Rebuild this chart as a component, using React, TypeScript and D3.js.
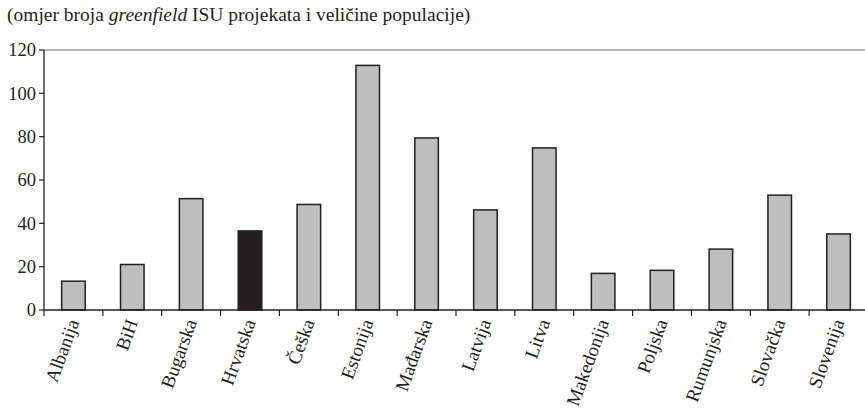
import React from "react";
import * as d3 from "d3";

const categories = ["Albanija", "BiH", "Bugarska", "Hrvatska", "Češka", "Estonija", "Mađarska", "Latvija", "Litva", "Makedonija", "Poljska", "Rumunjska", "Slovačka", "Slovenija"];
const values = [13.3, 21, 51.4, 36.5, 48.7, 112.9, 79.4, 46.2, 74.8, 16.9, 18.3, 28.1, 53, 35.1];
const highlighted = ["Hrvatska"];
const yTicks = [0, 20, 40, 60, 80, 100, 120];
const title = "(omjer broja ";
const titleItalic = "greenfield";
const titleRest = " ISU projekata i veličine populacije)";

export default function App() {
  const W = 865, H = 409;
  const left = 44, right = 868, top = 50, bottom = 310;
  const x = d3.scaleBand<string>().domain(categories).range([left, right]).paddingInner(0.6).paddingOuter(0.3);
  const xb = d3.scaleBand<string>().domain(categories).range([left, right]);
  const y = d3.scaleLinear().domain([0, 120]).range([bottom, top]);
  const font = "Liberation Serif";
  const ink = "#231f20";
  const ts = { fontFamily: font };
  return (
    <svg width={W} height={H} style={{ position: "absolute", left: 0, top: 0, background: "#fff" }}>
      <text x={7} y={21} fontSize={19.5} fill={ink} style={ts}>
        {title}<tspan fontStyle="italic">{titleItalic}</tspan>{titleRest}
      </text>
      <line x1={left} x2={W} y1={y(120)} y2={y(120)} stroke="#9a9a9a" strokeWidth={1.5} />
      {categories.map((c, i) => (
        <rect key={c} x={x(c)!} width={x.bandwidth()} y={y(values[i])} height={bottom - y(values[i])}
          fill={highlighted.includes(c) ? ink : "#bebebe"} stroke={ink} strokeWidth={1.5} />
      ))}
      <line x1={left} x2={left} y1={top} y2={bottom} stroke={ink} strokeWidth={1.3} />
      <line x1={left} x2={W} y1={bottom} y2={bottom} stroke={ink} strokeWidth={1.3} />
      {yTicks.map(t => (
        <g key={t}>
          <line x1={left - 5} x2={left} y1={y(t)} y2={y(t)} stroke={ink} strokeWidth={1.2} />
          <text x={left - 8} y={y(t)} dy="0.35em" textAnchor="end" fontSize={18.5} fill={ink} style={ts}>{t}</text>
        </g>
      ))}
      {categories.map(c => (
        <line key={"t" + c} x1={xb(c)!} x2={xb(c)!} y1={bottom} y2={bottom + 6} stroke={ink} strokeWidth={1.2} />
      ))}
      {categories.map(c => {
        const cx = xb(c)! + xb.bandwidth() / 2 + 6;
        const cy = bottom + 12;
        return (
          <text key={"l" + c} x={cx} y={cy} textAnchor="end" fontSize={19} fill={ink} style={ts}
            transform={`rotate(-70, ${cx}, ${cy})`}>{c}</text>
        );
      })}
    </svg>
  );
}
